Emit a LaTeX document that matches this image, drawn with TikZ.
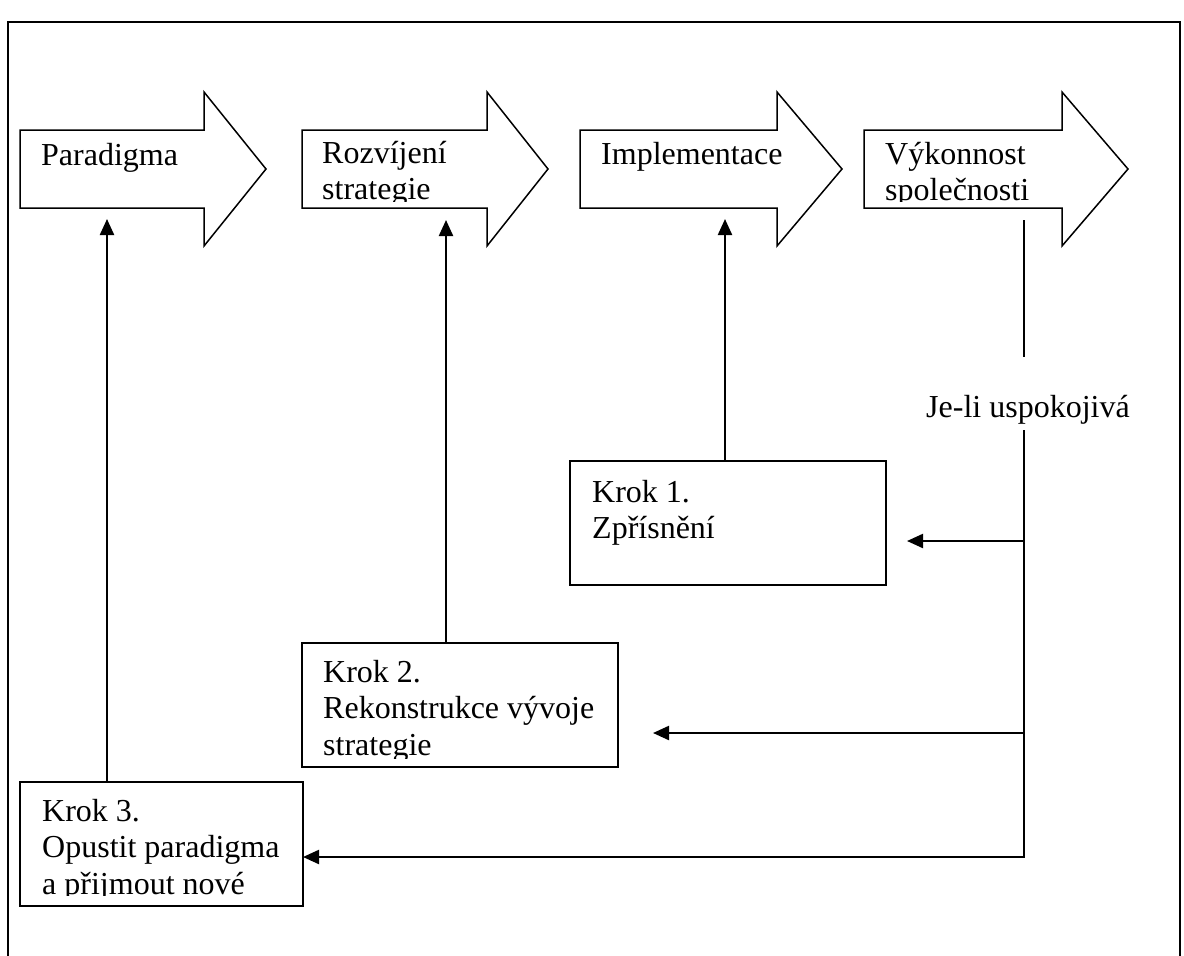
\documentclass[tikz,border=0pt]{standalone}
\usepackage{fontspec}
\setmainfont{Liberation Serif}
\usetikzlibrary{arrows.meta}
\newcommand\txtfont{\fontsize{32}{36.8}\selectfont}
\newcommand\twolines[2]{\vtop{\hbox{#1}\hbox{#2}}}
\newcommand\threelines[3]{\vtop{\hbox{#1}\hbox{#2}\hbox{#3}}}
\begin{document}
\begin{tikzpicture}[x=1pt,y=-1pt,
  bigarrow/.style={draw, line width=1.5pt, line join=miter, fill=white},
  stepbox/.style={draw, line width=1.8pt, anchor=north west, inner sep=0pt, outer sep=0pt},
  label/.style={anchor=base west, inner sep=0pt, font=\txtfont},
  conn/.style={line width=2.2pt, -{Triangle[length=16pt,width=14pt]}},
  plain/.style={line width=2.2pt}]
\useasboundingbox (0,0) rectangle (1184,956);

% outer frame (open at the bottom)
\draw[line width=2pt] (8,960) -- (8,22) -- (1180,22) -- (1180,960);

% process arrows
\draw[bigarrow] (20,130) -- (204,130) -- (204,92) -- (266,169) -- (204,246) -- (204,208) -- (20,208) -- cycle;
\draw[bigarrow] (302,130) -- (487,130) -- (487,92) -- (548,169) -- (487,246) -- (487,208) -- (302,208) -- cycle;
\draw[bigarrow] (580,130) -- (777,130) -- (777,92) -- (842,169) -- (777,246) -- (777,208) -- (580,208) -- cycle;
\draw[bigarrow] (864,130) -- (1062,130) -- (1062,92) -- (1128,169) -- (1062,246) -- (1062,208) -- (864,208) -- cycle;

\node[label] (paradigma) at (41,165) {Paradigma};
\begin{scope}
  \clip (302,130) rectangle (487,201);
  \node[label] (rozvijeni) at (322,163) {\twolines{Rozvíjení}{strategie}};
\end{scope}
\node[label] (implementace) at (601,164) {Implementace};
\begin{scope}
  \clip (864,130) rectangle (1062,201);
  \node[label] (vykonnost) at (885,164) {\twolines{Výkonnost}{společnosti}};
\end{scope}

% points under the process arrows
\coordinate (in1) at (107,219);
\coordinate (in2) at (446,220);
\coordinate (in3) at (725,219);
\coordinate (out4) at (1024,220);

% step boxes
\node[stepbox, minimum width=316pt, minimum height=124pt] (k1) at (570,461) {};
\node[stepbox, minimum width=316pt, minimum height=124pt] (k2) at (302,643) {};
\node[stepbox, minimum width=283pt, minimum height=124pt] (k3) at (20,782) {};

\node[label] (k1text) at (592,502) {\twolines{Krok 1.}{Zpřísnění}};
\begin{scope}
  \clip (302,643) rectangle (618,758);
  \node[label] (k2text) at (323,682) {\threelines{Krok 2.}{Rekonstrukce vývoje}{strategie}};
\end{scope}
\begin{scope}
  \clip (20,782) rectangle (303,895);
  \node[label] (k3text) at (42,821) {\threelines{Krok 3.}{Opustit paradigma}{a přijmout nové}};
\end{scope}

% steps feed back into the process
\draw[conn] (k1.north -| in3) -- (in3);
\draw[conn] ([xshift=144pt]k2.north west) -- (in2);
\draw[conn] ([xshift=87pt]k3.north west) -- (in1);

% performance check
\node[anchor=base, inner sep=0pt, font=\txtfont] (ok) at (1028,417) {Je-li uspokojivá};
\coordinate (f1) at (1024,357);
\coordinate (f2) at (1024,430);
\coordinate (f3) at (1024,857);
\coordinate (b1) at (1024,541);
\coordinate (b2) at (1024,733);
\coordinate (t1) at (907,541);
\coordinate (t2) at (653,733);

\draw[plain] (out4) -- (f1);
\draw[conn] (f2) -- (f3) -- (k3.east |- f3);
\draw[conn] (b1) -- (t1);
\draw[conn] (b2) -- (t2);
\end{tikzpicture}
\end{document}
